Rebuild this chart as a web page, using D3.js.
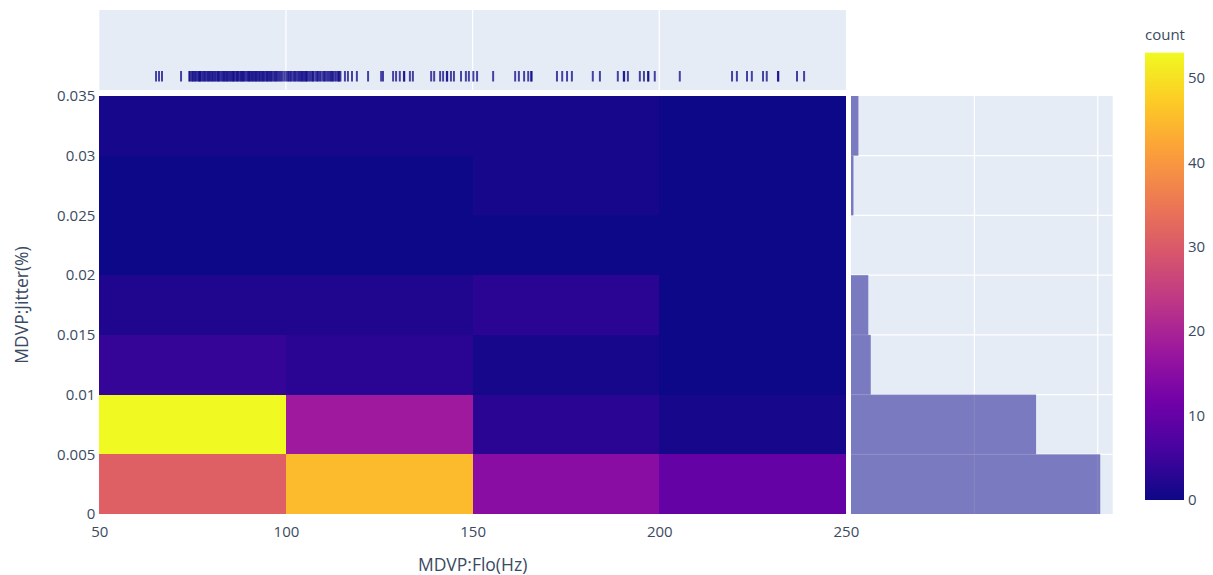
<!DOCTYPE html>
<html>
<head>
<meta charset="utf-8">
<script src="https://cdn.jsdelivr.net/npm/d3@7"></script>
<style>
  html, body { margin: 0; padding: 0; background: #ffffff; }
  svg { display: block; font-family: "Open Sans", verdana, arial, sans-serif; }
</style>
</head>
<body>
<svg id="chart" width="1213" height="575"></svg>
<script>
// ---- data ----------------------------------------------------------
const xBinEdges = [50, 100, 150, 200, 250];                                  // MDVP:Flo(Hz) bins
const yBinEdges = [0, 0.005, 0.01, 0.015, 0.02, 0.025, 0.03, 0.035];          // MDVP:Jitter(%) bins
// counts[row][col]: row = jitter bin (bottom to top), col = Flo bin (left to right)
const counts = [
  [31, 45, 15, 10],
  [53, 18, 3, 1],
  [4, 3, 1, 0],
  [2, 2, 3, 0],
  [0, 0, 0, 0],
  [0, 0, 1, 0],
  [1, 1, 1, 0]
];
// individual MDVP:Flo(Hz) observations for the rug
const floValues = [
  65.2, 66.0, 66.8, 71.9,
  74.1, 74.3, 74.8, 75.0, 75.3, 75.6, 75.9, 76.3, 76.6, 76.8,
  77.0, 77.2, 77.6, 77.9, 78.2, 78.4, 78.8, 79.1, 79.4, 79.7,
  80.0, 80.3, 80.5, 80.9, 81.1, 81.5, 81.8, 82.0, 82.3, 82.7,
  83.0, 83.3, 83.5, 83.8, 84.1, 84.3, 84.6, 84.9, 85.2, 85.5,
  85.8, 86.0, 86.2, 86.6, 86.9, 87.1, 87.4, 87.8, 88.0, 88.3,
  88.5, 88.8, 89.1, 89.5, 89.8, 90.1, 90.3, 90.6, 90.9, 91.2,
  91.5, 91.8, 92.0, 92.3, 92.6, 92.9, 93.1, 93.5, 93.7, 94.0,
  94.2, 94.6, 94.9, 95.1, 95.4, 95.7, 96.0, 96.3, 96.7, 97.0,
  97.3, 97.6, 98.0, 98.3, 98.7, 99.1, 99.6,
  100.1, 100.5, 100.8, 101.2, 101.4, 101.9, 102.3, 102.5, 102.9, 103.3,
  103.6, 103.9, 104.2, 104.4, 104.7, 105.0, 105.3, 105.5, 105.7, 106.1,
  106.5, 106.9, 107.2, 107.4, 107.9, 108.3, 108.6, 109.0, 109.3, 109.8,
  110.2, 110.5, 110.9, 111.3, 111.7, 112.0, 112.3, 112.6, 113.0, 113.4,
  113.9, 114.1, 114.3, 114.6,
  115.8, 116.6, 117.7, 119.0, 122.0, 125.5, 126.0, 128.7, 129.5, 130.5,
  131.6, 131.7, 133.2, 134.0, 138.9, 139.7, 141.3, 142.1, 143.1, 143.2,
  144.2, 145.0, 146.9, 148.2, 149.0,
  150.2, 151.2, 155.5, 161.4, 162.4, 163.8, 164.9, 165.7, 165.8, 172.6,
  174.0, 175.3, 176.6, 182.2, 184.1, 188.9, 190.5, 190.6, 191.6, 194.8,
  195.9, 197.0, 197.1, 198.8,
  205.5, 219.5, 220.8, 223.5, 224.8, 227.8, 228.8, 231.8, 231.9, 236.9, 238.8
];
const xTicks = [50, 100, 150, 200, 250];
const yTicks = [0, 0.005, 0.01, 0.015, 0.02, 0.025, 0.03, 0.035];
const yTickLabels = ["0", "0.005", "0.01", "0.015", "0.02", "0.025", "0.03", "0.035"];
const histTicks = [50, 100];
const colorTicks = [0, 10, 20, 30, 40, 50];
const plasma = ["#0d0887", "#46039f", "#7201a8", "#9c179e", "#bd3786",
                "#d8576b", "#ed7953", "#fb9f3a", "#fdca26", "#f0f921"];

// ---- layout --------------------------------------------------------
const main = { left: 99.3, right: 845.9, top: 96, bottom: 514 };
const topPanel = { top: 10, bottom: 90 };
const sidePanel = { left: 851, right: 1112.7 };
const cbar = { left: 1145, right: 1184, bottom: 500 };
const bgColor = "#e5ecf6";
const textColor = "#3a4a62";

const svg = d3.select("#chart");

const x = d3.scaleLinear().domain([50, 250]).range([main.left, main.right]);
const y = d3.scaleLinear().domain([0, 0.035]).range([main.bottom, main.top]);

const rowTotals = counts.map(r => d3.sum(r));
const zMax = d3.max(counts.flat());
const color = d3.scaleLinear()
  .domain(plasma.map((_, i) => zMax * i / (plasma.length - 1)))
  .range(plasma)
  .interpolate(d3.interpolateRgb);

// ---- top marginal: rug ---------------------------------------------
svg.append("rect")
  .attr("x", main.left).attr("y", topPanel.top)
  .attr("width", main.right - main.left).attr("height", topPanel.bottom - topPanel.top)
  .attr("fill", bgColor);

svg.append("g").selectAll("line")
  .data(xTicks.filter(t => t > 50 && t < 250))
  .join("line")
  .attr("x1", d => x(d)).attr("x2", d => x(d))
  .attr("y1", topPanel.top).attr("y2", topPanel.bottom)
  .attr("stroke", "#ffffff").attr("stroke-width", 1.25);

svg.append("g").selectAll("line")
  .data(floValues)
  .join("line")
  .attr("x1", d => x(d)).attr("x2", d => x(d))
  .attr("y1", 71).attr("y2", 81.5)
  .attr("stroke", "#0d0887").attr("stroke-width", 2)
  .attr("stroke-opacity", 0.75);

// ---- main density heatmap ------------------------------------------
const cells = [];
counts.forEach((row, j) => row.forEach((c, i) => cells.push({ i, j, c })));

svg.append("g").selectAll("rect")
  .data(cells)
  .join("rect")
  .attr("x", d => x(xBinEdges[d.i]))
  .attr("y", d => y(yBinEdges[d.j + 1]))
  .attr("width", d => x(xBinEdges[d.i + 1]) - x(xBinEdges[d.i]))
  .attr("height", d => y(yBinEdges[d.j]) - y(yBinEdges[d.j + 1]))
  .attr("fill", d => color(d.c))
  .attr("shape-rendering", "crispEdges");

// ---- side marginal: histogram of jitter ----------------------------
const hx = d3.scaleLinear().domain([0, d3.max(rowTotals) * 1.05]).range([sidePanel.left, sidePanel.right]);

svg.append("rect")
  .attr("x", sidePanel.left).attr("y", main.top)
  .attr("width", sidePanel.right - sidePanel.left).attr("height", main.bottom - main.top)
  .attr("fill", bgColor);

const sideGrid = svg.append("g").attr("stroke", "#ffffff").attr("stroke-width", 1.25);
sideGrid.selectAll("line.h")
  .data(yTicks.filter(t => t > 0 && t < 0.035))
  .join("line").attr("class", "h")
  .attr("x1", sidePanel.left).attr("x2", sidePanel.right)
  .attr("y1", d => y(d)).attr("y2", d => y(d));
sideGrid.selectAll("line.v")
  .data(histTicks)
  .join("line").attr("class", "v")
  .attr("x1", d => hx(d)).attr("x2", d => hx(d))
  .attr("y1", main.top).attr("y2", main.bottom);

svg.append("g").selectAll("rect")
  .data(rowTotals.map((v, j) => ({ v, j })))
  .join("rect")
  .attr("x", hx(0))
  .attr("y", d => y(yBinEdges[d.j + 1]))
  .attr("width", d => hx(d.v) - hx(0))
  .attr("height", d => y(yBinEdges[d.j]) - y(yBinEdges[d.j + 1]))
  .attr("fill", "#0d0887").attr("fill-opacity", 0.5);

// ---- axes ----------------------------------------------------------
const xAxis = svg.append("g")
  .attr("transform", `translate(0,${main.bottom})`)
  .call(d3.axisBottom(x).tickValues(xTicks).tickSize(0).tickPadding(12));
const yAxis = svg.append("g")
  .attr("transform", `translate(${main.left},0)`)
  .call(d3.axisLeft(y).tickValues(yTicks).tickSize(0).tickPadding(4)
    .tickFormat((d, i) => yTickLabels[i]));
[xAxis, yAxis].forEach(g => {
  g.select(".domain").remove();
  g.selectAll("text")
    .attr("fill", textColor)
    .style("font-family", '"Open Sans", verdana, arial, sans-serif')
    .style("font-size", "15px");
});

svg.append("text")
  .attr("x", (main.left + main.right) / 2).attr("y", 571)
  .attr("text-anchor", "middle")
  .attr("fill", textColor).style("font-size", "17.5px")
  .text("MDVP:Flo(Hz)");

svg.append("text")
  .attr("transform", `translate(28,${(main.top + main.bottom) / 2}) rotate(-90)`)
  .attr("text-anchor", "middle")
  .attr("fill", textColor).style("font-size", "17.5px")
  .text("MDVP:Jitter(%)");

// ---- colour bar ----------------------------------------------------
const cy = d3.scaleLinear().domain([0, zMax]).range([cbar.bottom, cbar.bottom - 8.44 * zMax]);

const grad = svg.append("defs").append("linearGradient")
  .attr("id", "plasmaGrad")
  .attr("x1", 0).attr("y1", 1).attr("x2", 0).attr("y2", 0);
grad.selectAll("stop")
  .data(plasma)
  .join("stop")
  .attr("offset", (d, i) => i / (plasma.length - 1))
  .attr("stop-color", d => d);

svg.append("rect")
  .attr("x", cbar.left).attr("y", cy(zMax))
  .attr("width", cbar.right - cbar.left).attr("height", cy(0) - cy(zMax))
  .attr("fill", "url(#plasmaGrad)");

svg.append("g").selectAll("text")
  .data(colorTicks)
  .join("text")
  .attr("x", cbar.right + 4)
  .attr("y", d => cy(d))
  .attr("dy", "0.35em")
  .attr("fill", textColor).style("font-size", "15px")
  .text(d => d);

svg.append("text")
  .attr("x", cbar.left).attr("y", 40)
  .attr("fill", textColor).style("font-size", "15px")
  .text("count");
</script>
</body>
</html>
